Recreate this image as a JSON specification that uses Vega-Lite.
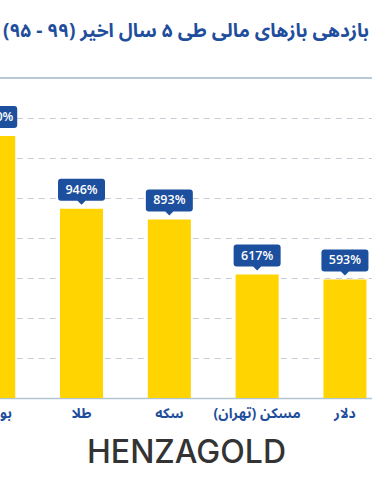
{
  "$schema": "https://vega.github.io/schema/vega-lite/v6.json",
  "width": 372,
  "height": 320,
  "autosize": {"type": "none"},
  "padding": {"top": 78, "left": 0, "right": 0, "bottom": 86},
  "background": "white",
  "config": {"view": {"stroke": null}},
  "title": {
    "text": "بازدهی بازهای مالی طی ۵ سال اخیر (۹۹ - ۹۵)",
    "anchor": "end",
    "frame": "group",
    "font": "Noto Sans Arabic, Noto Sans, DejaVu Sans",
    "fontSize": 19,
    "fontWeight": "bold",
    "color": "#1f4e9c",
    "baseline": "middle",
    "offset": 27,
    "dx": -3
  },
  "data": {
    "values": [
      {"asset": "بورس", "value": 1310, "label": "1310%"},
      {"asset": "طلا", "value": 946, "label": "946%"},
      {"asset": "سکه", "value": 893, "label": "893%"},
      {"asset": "مسکن (تهران)", "value": 617, "label": "617%"},
      {"asset": "دلار", "value": 593, "label": "593%"}
    ]
  },
  "layer": [
    {
      "mark": {"type": "bar", "color": "#FFD400"},
      "encoding": {
        "x": {
          "field": "asset",
          "type": "nominal",
          "sort": null,
          "scale": {"range": [-49.75, 388.4], "paddingInner": 0.51, "paddingOuter": 0.25},
          "axis": {
            "title": "HENZAGOLD",
            "titleX": 186,
            "labelAngle": 0,
            "labelFont": "Noto Sans Arabic, DejaVu Sans",
            "labelFontSize": 14,
            "labelFontWeight": "bold",
            "labelColor": "#1f4e9c",
            "labelPadding": 8,
            "labelLimit": 0,
            "ticks": false,
            "domainColor": "#b3c5d3",
            "domainWidth": 1.5,
            "titleFont": "Inter",
            "titleFontSize": 32,
            "titleFontWeight": 500,
            "titleColor": "#333333",
            "titlePadding": 17
          }
        },
        "y": {
          "field": "value",
          "type": "quantitative",
          "scale": {"domain": [0, 1600]},
          "axis": {
            "values": [200, 400, 600, 800, 1000, 1200, 1400],
            "grid": true,
            "gridDash": [6, 5],
            "gridColor": "#c5ccd3",
            "gridWidth": 1,
            "labels": false,
            "ticks": false,
            "domain": false,
            "title": null
          }
        }
      }
    },
    {
      "mark": {
        "type": "point",
        "shape": "M -0.872 -1.277 L 0.872 -1.277 Q 1 -1.277 1 -1.149 L 1 -0.468 Q 1 -0.34 0.872 -0.34 L 0.17 -0.34 L 0 -0.17 L -0.17 -0.34 L -0.872 -0.34 Q -1 -0.34 -1 -0.468 L -1 -1.149 Q -1 -1.277 -0.872 -1.277 Z",
        "size": 2209,
        "filled": true,
        "color": "#1c4f9e",
        "opacity": 1,
        "strokeWidth": 0
      },
      "encoding": {
        "x": {"field": "asset", "type": "nominal", "sort": null},
        "y": {"field": "value", "type": "quantitative"}
      }
    },
    {
      "mark": {
        "type": "text",
        "dy": -19,
        "color": "white",
        "font": "Open Sans",
        "fontWeight": 600,
        "fontSize": 12.5,
        "baseline": "middle"
      },
      "encoding": {
        "x": {"field": "asset", "type": "nominal", "sort": null},
        "y": {"field": "value", "type": "quantitative"},
        "text": {"field": "label"}
      }
    },
    {
      "data": {"values": [{"sep": 1600}]},
      "mark": {"type": "rule", "color": "#b8c9d6", "strokeWidth": 2},
      "encoding": {"y": {"field": "sep", "type": "quantitative"}}
    }
  ]
}
